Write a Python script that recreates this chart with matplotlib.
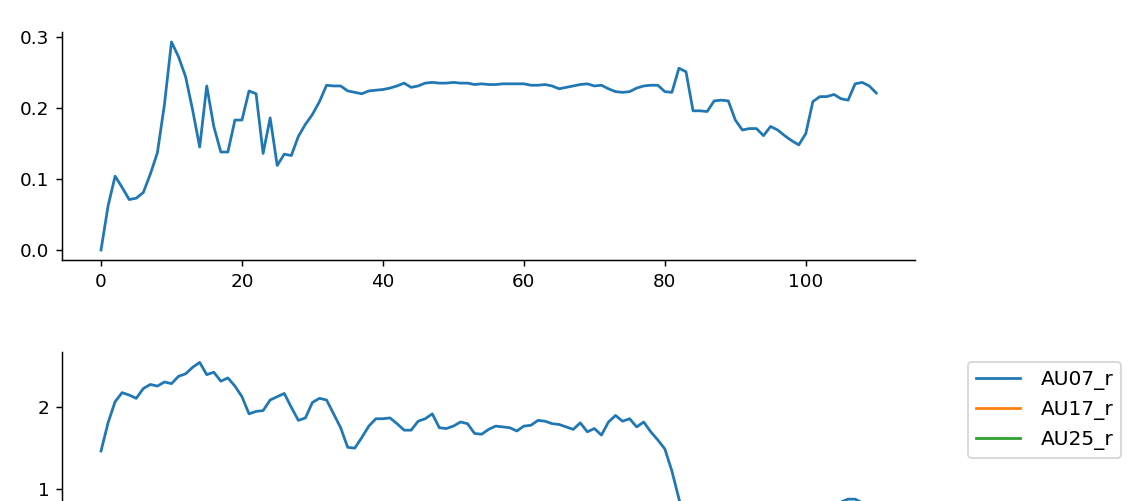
import numpy as np
import matplotlib
matplotlib.use('Agg')
import matplotlib.pyplot as plt
from matplotlib.ticker import MultipleLocator

# top panel series
top_vals = [0.0, 0.062, 0.104, 0.088, 0.071, 0.073, 0.081, 0.107, 0.137, 0.205,
            0.293, 0.272, 0.244, 0.197, 0.145, 0.231, 0.174, 0.138, 0.138, 0.183,
            0.183, 0.224, 0.220, 0.136, 0.186, 0.119, 0.135, 0.133, 0.160, 0.177,
            0.191, 0.209, 0.232, 0.231, 0.231, 0.224, 0.222, 0.220, 0.224, 0.225,
            0.226, 0.228, 0.231, 0.235, 0.229, 0.231, 0.235, 0.236, 0.235, 0.235,
            0.236, 0.235, 0.235, 0.233, 0.234, 0.233, 0.233, 0.234, 0.234, 0.234,
            0.234, 0.232, 0.232, 0.233, 0.231, 0.227, 0.229, 0.231, 0.233, 0.234,
            0.231, 0.232, 0.227, 0.223, 0.222, 0.223, 0.228, 0.231, 0.232, 0.232,
            0.223, 0.222, 0.256, 0.251, 0.196, 0.196, 0.195, 0.210, 0.211, 0.210,
            0.183, 0.169, 0.171, 0.171, 0.161, 0.174, 0.169, 0.161, 0.154, 0.148,
            0.164, 0.209, 0.216, 0.216, 0.219, 0.213, 0.211, 0.234, 0.236, 0.231,
            0.221]

# bottom panel series
au07_r = [1.465, 1.81, 2.07, 2.18, 2.15, 2.11, 2.23, 2.28, 2.26, 2.31,
          2.29, 2.38, 2.41, 2.49, 2.55, 2.40, 2.43, 2.32, 2.36, 2.26,
          2.13, 1.92, 1.95, 1.96, 2.09, 2.13, 2.17, 2.00, 1.84, 1.87,
          2.06, 2.11, 2.09, 1.92, 1.75, 1.51, 1.50, 1.63, 1.77, 1.86,
          1.86, 1.87, 1.80, 1.72, 1.72, 1.83, 1.86, 1.92, 1.75, 1.74,
          1.77, 1.82, 1.80, 1.68, 1.67, 1.73, 1.77, 1.76, 1.75, 1.71,
          1.77, 1.78, 1.84, 1.83, 1.80, 1.79, 1.76, 1.73, 1.81, 1.70,
          1.74, 1.66, 1.82, 1.90, 1.83, 1.86, 1.76, 1.82, 1.70, 1.60,
          1.49, 1.22, 0.88, 0.55, 0.42, 0.38, 0.36, 0.35, 0.37, 0.34,
          0.33, 0.36, 0.38, 0.37, 0.40, 0.42, 0.45, 0.48, 0.52, 0.56,
          0.60, 0.64, 0.70, 0.76, 0.81, 0.84, 0.875, 0.875, 0.83, 0.72,
          0.68]
au17_r = [0.30, 0.42, 0.50, 0.55, 0.52, 0.50, 0.56, 0.60, 0.58, 0.62,
          0.60, 0.64, 0.66, 0.70, 0.72, 0.66, 0.68, 0.63, 0.65, 0.60,
          0.55, 0.48, 0.50, 0.50, 0.56, 0.58, 0.60, 0.52, 0.45, 0.47,
          0.54, 0.57, 0.55, 0.48, 0.40, 0.32, 0.31, 0.36, 0.42, 0.46,
          0.46, 0.47, 0.44, 0.40, 0.40, 0.45, 0.46, 0.49, 0.42, 0.41,
          0.43, 0.45, 0.44, 0.38, 0.38, 0.41, 0.43, 0.42, 0.42, 0.40,
          0.43, 0.43, 0.46, 0.45, 0.44, 0.43, 0.42, 0.40, 0.44, 0.39,
          0.41, 0.37, 0.45, 0.48, 0.45, 0.46, 0.42, 0.44, 0.39, 0.34,
          0.30, 0.22, 0.15, 0.10, 0.08, 0.07, 0.07, 0.06, 0.07, 0.06,
          0.06, 0.07, 0.08, 0.07, 0.09, 0.10, 0.11, 0.12, 0.14, 0.16,
          0.18, 0.20, 0.23, 0.26, 0.28, 0.30, 0.32, 0.31, 0.28, 0.24,
          0.22]
au25_r = [0.00, 0.05, 0.10, 0.14, 0.12, 0.11, 0.15, 0.17, 0.16, 0.18,
          0.17, 0.20, 0.21, 0.24, 0.26, 0.21, 0.22, 0.19, 0.20, 0.17,
          0.14, 0.10, 0.11, 0.11, 0.14, 0.15, 0.16, 0.12, 0.09, 0.10,
          0.13, 0.14, 0.13, 0.10, 0.07, 0.04, 0.04, 0.05, 0.07, 0.09,
          0.09, 0.09, 0.08, 0.07, 0.07, 0.08, 0.09, 0.10, 0.07, 0.07,
          0.07, 0.08, 0.08, 0.06, 0.06, 0.07, 0.07, 0.07, 0.07, 0.06,
          0.07, 0.07, 0.08, 0.08, 0.08, 0.07, 0.07, 0.06, 0.08, 0.06,
          0.07, 0.05, 0.08, 0.09, 0.08, 0.08, 0.07, 0.08, 0.06, 0.05,
          0.04, 0.02, 0.01, 0.00, 0.00, 0.00, 0.00, 0.00, 0.00, 0.00,
          0.00, 0.00, 0.00, 0.00, 0.01, 0.01, 0.01, 0.02, 0.02, 0.03,
          0.03, 0.04, 0.05, 0.06, 0.07, 0.08, 0.09, 0.09, 0.08, 0.06,
          0.05]
bottom_series = {'AU07_r': au07_r, 'AU17_r': au17_r, 'AU25_r': au25_r}

DPI = 132
fig = plt.figure(figsize=(1136 / DPI, 501 / DPI), dpi=DPI)

# top axes
ax1 = fig.add_axes([0.0548, 0.4802, 0.7507, 0.4569])
ax1.plot(np.arange(len(top_vals)), top_vals)

# bottom axes runs off the lower edge, like the reference crop
ax2 = fig.add_axes([0.0548, -0.1597, 0.7507, 0.4571])
for name, vals in bottom_series.items():
    ax2.plot(np.arange(len(vals)), vals, label=name)
ax2.yaxis.set_major_locator(MultipleLocator(1))
ax2.tick_params(axis='x', labelbottom=False)  # below the crop anyway
ax2.legend(bbox_to_anchor=(1.05, 1), loc='upper left', fontsize=11,
           handlelength=2.2, handletextpad=1.0)

for ax in (ax1, ax2):
    ax.spines['top'].set_visible(False)
    ax.spines['right'].set_visible(False)

fig.savefig('out.png', dpi=DPI)
